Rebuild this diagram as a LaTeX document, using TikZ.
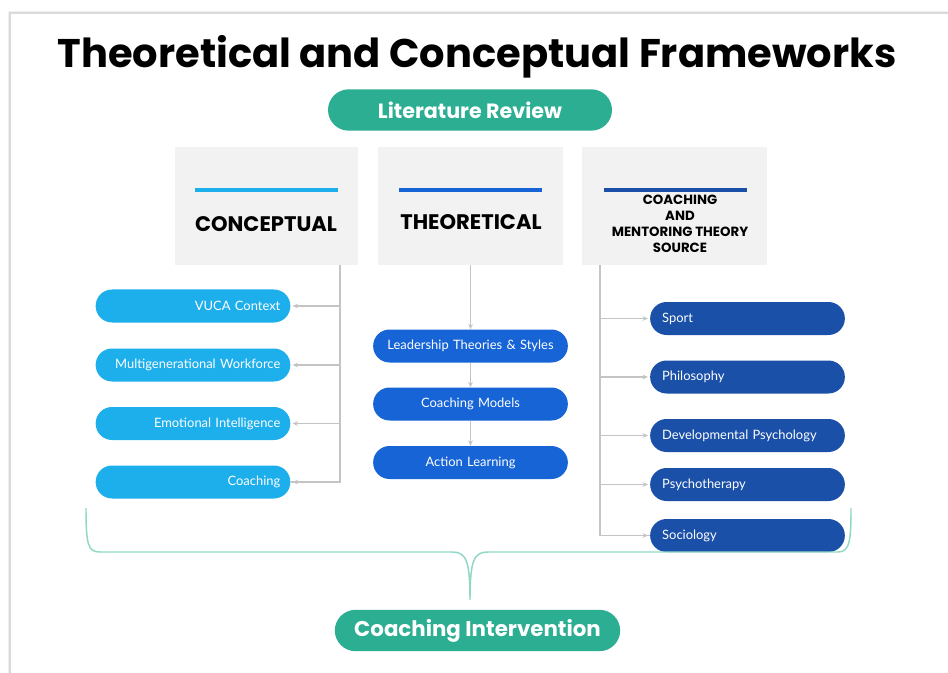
\documentclass[tikz,border=0pt]{standalone}
\usepackage{fontspec}
\setmainfont{Lato}
\newfontfamily\popfont{Poppins}
\usetikzlibrary{arrows.meta,calc}

\definecolor{pilltealc}{HTML}{2BAE91}
\definecolor{cblue}{HTML}{1DAEEC}
\definecolor{tblue}{HTML}{1664D6}
\definecolor{sblue}{HTML}{1A50A8}
\definecolor{boxgrey}{HTML}{F2F2F2}
\definecolor{conngrey}{HTML}{C4C4C4}
\definecolor{bracec}{HTML}{8FD8C6}
\definecolor{cardedge}{HTML}{DADADA}

\begin{document}
\begin{tikzpicture}[x=0.75pt,y=-0.75pt,
  greybox/.style={fill=boxgrey, minimum width=137.25pt, minimum height=88.5pt, inner sep=0pt},
  hdr/.style={font=\popfont\bfseries\fontsize{15.8}{18}\selectfont, text=black, inner sep=0pt},
  hdrsmall/.style={font=\popfont\bfseries\fontsize{10}{12}\selectfont, text=black, align=center, inner sep=0pt},
  pill/.style={rounded corners=12.3pt, text=white, minimum height=24.75pt, inner ysep=0pt,
    font=\fontsize{9.7}{11}\selectfont},
  pillC/.style={pill, fill=cblue, text width=131pt, inner xsep=7.5pt, align=right},
  pillT/.style={pill, fill=tblue, text width=131pt, inner xsep=7.5pt, align=center},
  pillS/.style={pill, fill=sblue, text width=128pt, inner xsep=9pt, align=left},
  bigpill/.style={rounded corners=15.5pt, fill=pilltealc, text=white, minimum height=31pt, inner sep=0pt,
    font=\popfont\bfseries\fontsize{15.5}{17}\selectfont},
  conn/.style={draw=conngrey, line width=1.1pt, -{Stealth[length=4pt,width=3.5pt]}},
  trunk/.style={draw=conngrey, line width=1.1pt},
  bar/.style={line width=2.4pt}
]
\useasboundingbox (0,0) rectangle (948,673);
\clip (0,0) rectangle (948,673);

% page card
\fill[white] (0,0) rectangle (948,673);
\fill[black!6] (8,11) rectangle (960,690);
\filldraw[fill=white, draw=cardedge, line width=0.8pt] (10,13) rectangle (960,690);

% title and top pill
\node[font=\popfont\bfseries\fontsize{30}{34}\selectfont, inner sep=0pt] (title) at (477,57)
  {Theoretical and Conceptual Frameworks};
\node[bigpill, minimum width=213pt] (lit) at (470,110) {Literature Review};

% column heads
\node[greybox] (cbox) at (266.5,206) {};
\node[greybox, minimum width=138.75pt] (tbox) at (470.5,206) {};
\node[greybox, minimum width=138.75pt] (sbox) at (674.5,206) {};

\draw[bar, draw=cblue] (195,190) -- (338,190);
\draw[bar, draw=tblue] (399,190) -- (542,190);
\draw[bar, draw=sblue] (604,190) -- (747,190);

\node[hdr] (chdr) at (266,224) {CONCEPTUAL};
\node[hdr] (thdr) at (471,222) {THEORETICAL};
\node[hdrsmall] (shdr) at (680,224) {COACHING\\AND\\MENTORING THEORY\\SOURCE};

% conceptual items
\node[pillC] (vuca) at (193,306) {VUCA Context};
\node[pillC] (multi) at (193,365) {Multigenerational Workforce};
\node[pillC] (emo) at (193,423.5) {Emotional Intelligence};
\node[pillC] (coach) at (193,482) {Coaching};

% theoretical items
\node[pillT] (lead) at (470.5,346) {Leadership Theories \& Styles};
\node[pillT] (cmod) at (470.5,404) {Coaching Models};
\node[pillT] (alearn) at (470.5,462.5) {Action Learning};

% coaching and mentoring sources
\node[pillS] (sport) at (747.5,318.5) {Sport};
\node[pillS] (phil) at (747.5,377) {Philosophy};
\node[pillS] (dev) at (747.5,435.5) {Developmental Psychology};
\node[pillS] (psy) at (747.5,484.5) {Psychotherapy};
\node[pillS] (soc) at (747.5,535.5) {Sociology};

% connectors: conceptual
\coordinate (cT) at ($(cbox.south)+(73.5,0)$);
\draw[trunk] (cT) |- (coach.east);
\foreach \n in {vuca,multi,emo,coach}
  \draw[conn] (cT) |- ([xshift=1.5pt]\n.east);

% connectors: theoretical
\draw[conn] (tbox.south) -- (lead.north);
\draw[conn] (lead.south) -- (cmod.north);
\draw[conn] (cmod.south) -- (alearn.north);

% connectors: sources
\coordinate (sT) at ($(sbox.south)+(-74.5,0)$);
\draw[trunk] (sT) |- (soc.west);
\foreach \n in {sport,phil,dev,psy,soc}
  \draw[conn] (sT) |- ([xshift=-1.5pt]\n.west);

% closing brace
\coordinate (tip) at (470,600);
\draw[bracec, line width=1.1pt]
  (86,508) .. controls (86,545) and (88,552) .. (100,552) -- (452,552)
  .. controls (466,552) and (470,560) .. (tip)
  .. controls (470,560) and (474,552) .. (488,552) -- (838,552)
  .. controls (850,552) and (851,540) .. (851,508);

\node[bigpill, minimum width=214pt] (ci) at (477.5,630.5) {\fontsize{16}{18}\selectfont Coaching Intervention};
\end{tikzpicture}
\end{document}
